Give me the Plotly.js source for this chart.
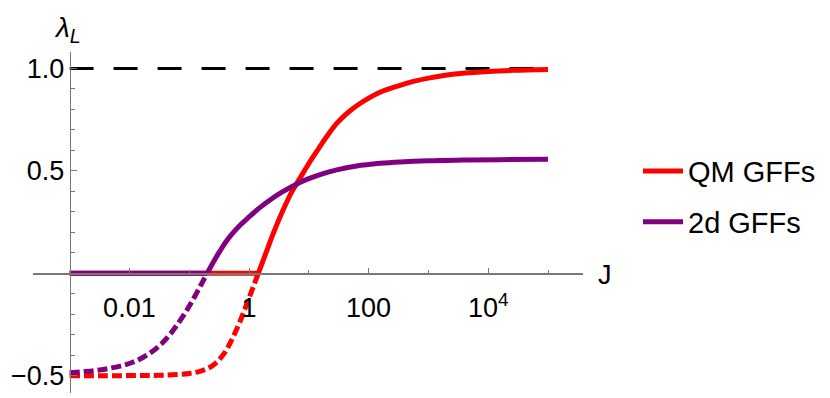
<!DOCTYPE html>
<html>
<head>
<meta charset="utf-8">
<script src="https://cdn.plot.ly/plotly-3.0.1.min.js"></script>
<style>html,body{margin:0;padding:0;background:#fff}#plot{width:830px;height:398px}</style>
</head>
<body>
<div id="plot"></div>
<script>
// ---- data (J on a log axis; values given as exponents of 10) ----
const qmLog10J = [-3.0, -2.0, -1.5, -1.2, -1.0, -0.85, -0.7, -0.55, -0.4, -0.318, -0.24, -0.15, -0.07, 0.017, 0.156,
                  0.28, 0.406, 0.50, 0.602, 0.72, 0.853, 1.0, 1.132, 1.3, 1.467, 1.65, 1.856, 2.19, 2.525, 2.75,
                  3.0, 3.31, 3.58, 4.0, 4.42, 5.0];
const qmLambda = [-0.500, -0.4995, -0.498, -0.494, -0.489, -0.481, -0.466, -0.437, -0.385, -0.342, -0.295, -0.235, -0.175, -0.108, 0.0,
                  0.097, 0.195, 0.262, 0.330, 0.400, 0.465, 0.536, 0.595, 0.668, 0.732, 0.784, 0.829, 0.884, 0.918, 0.937,
                  0.953, 0.968, 0.977, 0.9855, 0.991, 0.995];

const gffLog10J = [-3.0, -2.75, -2.5, -2.3, -2.1, -1.935, -1.768, -1.6, -1.45, -1.326, -1.21, -1.05, -0.93, -0.8, -0.70,
                   -0.6, -0.5, -0.4, -0.29, -0.15, 0.0, 0.17, 0.351, 0.55, 0.824, 1.0, 1.2, 1.467, 1.8, 2.19,
                   2.525, 3.0, 3.58, 4.2, 5.0];
const gffLambda = [-0.486, -0.480, -0.472, -0.462, -0.449, -0.433, -0.410, -0.378, -0.340, -0.300, -0.255, -0.185, -0.125, -0.055, 0.0,
                   0.053, 0.102, 0.148, 0.190, 0.235, 0.275, 0.318, 0.358, 0.396, 0.440, 0.462, 0.483, 0.505, 0.524, 0.537,
                   0.544, 0.550, 0.553, 0.555, 0.557];

const asymptote = 1.0;
const seriesNames = ["QM GFFs", "2d GFFs"];
const seriesColors = ["#ff0000", "#800080"];
const xTickVals = [0.01, 1, 100, 10000];
const xTickText = ["0.01", "1", "100", "10<sup>4</sup>"];
const xMinorVals = [0.1, 10, 1000, 100000];
const yTickVals = [-0.5, 0.5, 1.0];
const yTickText = ["\u22120.5", "0.5", "1.0"];

// ---- build traces ----
const FONT = "Liberation Sans, Arial, Helvetica, sans-serif";
function buildSeries(logJ, lam, name, color, group) {
  const J = logJ.map(e => Math.pow(10, e));
  const iz = lam.findIndex(v => v === 0);
  const negX = [], negY = [], posX = [], posY = [];
  for (let i = 0; i < J.length; i++) {
    if (lam[i] <= 0) { negX.push(J[i]); negY.push(lam[i]); }
    if (lam[i] >= 0) { posX.push(J[i]); posY.push(lam[i]); }
  }
  return [
    {x: [J[0], J[iz]], y: [0, 0], mode: "lines", line: {color: color, width: 5}, showlegend: false, hoverinfo: "skip", legendgroup: group},
    {x: negX, y: negY, mode: "lines", line: {color: color, width: 5, dash: "10px,4px", shape: "spline", smoothing: 1}, showlegend: false, legendgroup: group},
    {x: posX, y: posY, mode: "lines", name: name, line: {color: color, width: 5, shape: "spline", smoothing: 1}, showlegend: true, legendgroup: group}
  ];
}
const jMin = Math.pow(10, Math.min(qmLog10J[0], gffLog10J[0]));
const jMax = Math.pow(10, Math.max(qmLog10J[qmLog10J.length - 1], gffLog10J[gffLog10J.length - 1]));

const traces = [
  {x: [jMin, jMax], y: [asymptote, asymptote], mode: "lines", line: {color: "#000", width: 3, dash: "24px,20px"}, showlegend: false, hoverinfo: "skip"}
].concat(
  buildSeries(qmLog10J, qmLambda, seriesNames[0], seriesColors[0], "qm"),
  buildSeries(gffLog10J, gffLambda, seriesNames[1], seriesColors[1], "gff")
);

const xRange = [-3.612, 5.585];
const yRange = [-0.5845, 1.0806];
const yAxisPos = (Math.log10(jMin) - xRange[0]) / (xRange[1] - xRange[0]);
const xAxisPos = (0 - yRange[0]) / (yRange[1] - yRange[0]);
const AX = "#777777";

const layout = {
  width: 830, height: 398,
  margin: {l: 33, r: 247, t: 52, b: 5, pad: 0},
  paper_bgcolor: "#fff", plot_bgcolor: "rgba(0,0,0,0)",
  font: {family: FONT, size: 27, color: "#000"},
  showlegend: true,
  legend: {x: 1.1, y: 0.576, xanchor: "left", yanchor: "middle", traceorder: "grouped", tracegroupgap: 10,
           itemwidth: 40,
           font: {family: FONT, size: 29, color: "#000"}, bgcolor: "rgba(0,0,0,0)", borderwidth: 0},
  xaxis: {type: "log", range: xRange, anchor: "free", position: xAxisPos,
          showline: true, linecolor: AX, linewidth: 1.5, showgrid: false, zeroline: false,
          ticks: "inside", ticklen: 5, tickwidth: 1, tickcolor: AX,
          tickmode: "array", tickvals: xTickVals, ticktext: xTickText, ticklabelstandoff: 10,
          tickfont: {family: FONT, size: 27, color: "#000"},
          minor: {tickmode: "array", tickvals: xMinorVals, ticks: "inside", ticklen: 3, tickwidth: 1, tickcolor: AX, showgrid: false}},
  yaxis: {range: yRange, anchor: "free", position: yAxisPos, side: "left",
          showline: true, linecolor: AX, linewidth: 1.5, showgrid: false, zeroline: false,
          ticks: "inside", ticklen: 6, tickwidth: 1, tickcolor: AX,
          tickmode: "array", tickvals: yTickVals, ticktext: yTickText,
          tickfont: {family: FONT, size: 27, color: "#000"},
          minor: {tickmode: "linear", tick0: 0, dtick: 0.1, ticks: "inside", ticklen: 4, tickwidth: 1, tickcolor: AX, showgrid: false}},
  annotations: [
    {xref: "paper", yref: "paper", x: 0.063, y: 1.066, xanchor: "center", yanchor: "middle", showarrow: false,
     text: "<i>λ</i><sub><i>L</i></sub>", font: {family: FONT, size: 28, color: "#000"}},
    {xref: "paper", yref: "paper", x: 1.04, y: 0.346, xanchor: "center", yanchor: "middle", showarrow: false,
     text: "J", font: {family: FONT, size: 27, color: "#000"}}
  ]
};

Plotly.newPlot("plot", traces, layout, {staticPlot: true, displayModeBar: false});
</script>
</body>
</html>
